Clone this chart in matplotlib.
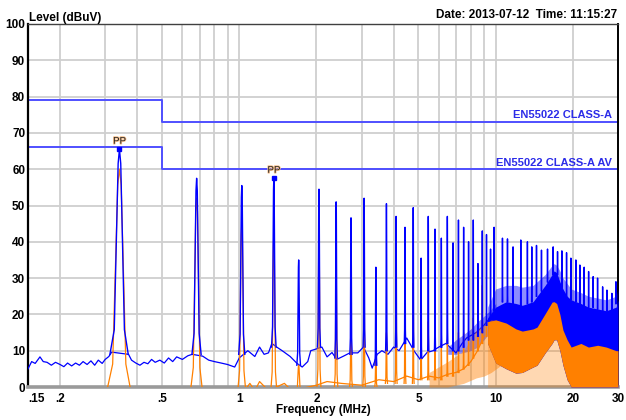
""" EMI conducted emission scan, EN55022 class A """

import numpy as np
import matplotlib
matplotlib.use("Agg")
import matplotlib.pyplot as plt
import matplotlib.patheffects as pe
from matplotlib.ticker import NullFormatter

plt.rcParams['font.family'] = ['Liberation Sans', 'DejaVu Sans']

# --- limit lines (MHz, dBuV) ---
LIMIT_F = [0.15, 0.5, 0.5, 30]
QP_LIMIT = [79, 79, 73, 73]
AV_LIMIT = [66, 66, 60, 60]

# --- blue (peak) trace: noise floor between spikes ---
BLUE_FLOOR_F = [0.150, 0.155, 0.160, 0.167, 0.172, 0.178, 0.185, 0.192, 0.200,
                0.207, 0.214, 0.222, 0.230, 0.238, 0.246, 0.255, 0.264, 0.273,
                0.282, 0.292, 0.300, 0.310, 0.318, 0.370, 0.380, 0.395, 0.410,
                0.425, 0.440, 0.455, 0.470, 0.490, 0.510, 0.530, 0.550, 0.570,
                0.600, 0.630, 0.655, 0.720, 0.760, 0.800, 0.850, 0.900, 0.960,
                1.00, 1.08, 1.15, 1.20, 1.25, 1.30, 1.34, 1.40, 1.47, 1.58,
                1.68, 1.76, 1.85, 1.90, 2.00, 2.10, 2.20, 2.30, 2.40, 2.55,
                2.70, 2.90, 3.05, 3.20, 3.30, 3.45, 3.60, 3.80, 4.00, 4.20,
                4.50, 4.80, 5.10, 5.40, 5.70, 6.00, 6.40, 7.00, 7.40, 7.70,
                8.40, 9.00, 9.50]
BLUE_FLOOR = [5.0, 7.0, 6.5, 8.3, 7.0, 6.8, 6.0, 6.8, 6.2,
              5.6, 6.6, 5.8, 6.6, 6.0, 7.0, 6.2, 7.2, 6.0,
              7.4, 6.5, 7.6, 8.4, 9.6, 9.0, 7.4, 6.6, 6.0,
              6.8, 6.4, 7.6, 6.8, 7.4, 6.6, 8.0, 7.0, 8.3,
              7.6, 8.6, 9.0, 8.5, 7.4, 7.0, 6.6, 6.2, 5.5,
              8.0, 10.0, 8.4, 11.0, 9.0, 9.4, 12.0, 11.0, 10.0, 8.4,
              6.5, 5.5, 7.0, 10.0, 10.5, 11.0, 8.3, 9.5, 7.6, 8.5,
              9.4, 9.4, 11.0, 8.0, 5.2, 9.0, 10.0, 9.0, 11.0, 10.0,
              13.5, 10.0, 7.4, 9.5, 10.0, 11.0, 12.0, 9.4, 12.0, 13.5,
              15.0, 17.0, 19.0]

# partly filled blue between 6.5 and 10 MHz
BLUE_LIGHT_F = [6.5, 7.0, 7.5, 8.0, 8.5, 9.0, 9.5, 10.0]
BLUE_LIGHT_LO = [9.0, 9.0, 9.5, 10.0, 11.0, 13.0, 15.0, 16.0]
BLUE_LIGHT_HI = [11.0, 13.0, 14.5, 16.0, 18.0, 19.5, 21.0, 23.0]

# dense part of both traces above ~9 MHz
BAND_F = [9.3, 10.0, 11.0, 12.0, 12.7, 14.0, 14.5, 15.6, 16.6, 16.9, 17.3,
          17.8, 18.3, 19.0, 19.7, 21.5, 23.0, 25.0, 27.0, 29.5, 30.0]
BLUE_HAZE_HI = [22.0, 27.0, 28.0, 28.0, 27.5, 28.0, 29.0, 31.0, 33.5, 34.0, 33.5,
                32.0, 30.0, 28.5, 27.0, 26.0, 25.0, 24.5, 24.0, 25.0, 27.0]
BLUE_BAND_HI = [19.0, 22.0, 23.5, 23.0, 22.5, 23.5, 25.0, 28.0, 31.0, 32.0, 31.5,
                29.0, 27.0, 25.0, 24.0, 23.0, 22.0, 21.5, 21.0, 22.0, 24.0]
ORANGE_BAND_HI = [18.0, 18.5, 17.6, 16.0, 15.4, 16.0, 16.5, 20.2, 23.4, 23.5, 23.0,
                  20.0, 15.7, 13.0, 11.0, 12.0, 11.0, 11.5, 11.0, 10.0, 10.0]
ORANGE_BAND_LO = [12.0, 6.6, 5.0, 3.8, 4.0, 5.5, 6.0, 9.4, 12.0, 13.0, 13.0,
                  10.0, 6.0, 2.0, 0.0, 0.0, 0.0, 0.0, 0.0, 0.0, 0.0]

# peach area (dense average trace with gaps) 5.5 - 10.5 MHz
ORANGE_PEACH_F = [5.5, 6.5, 7.5, 8.4, 9.0, 9.6, 10.5]
ORANGE_PEACH_LO = [0.0, 0.0, 1.0, 2.5, 3.0, 4.0, 6.0]
ORANGE_PEACH_HI = [4.0, 7.0, 10.0, 15.7, 17.0, 18.5, 18.0]

# blue spikes: frequency (MHz), peak and foot level (dBuV)
BLUE_SPIKE_F = [0.341, 0.682, 1.023, 1.364, 1.705, 2.046, 2.387, 2.728, 3.069,
                3.41, 3.75, 4.09, 4.43, 4.77, 5.12, 5.46, 5.80, 6.14, 6.48,
                6.82, 7.16, 7.50, 7.84, 8.18, 8.53, 8.87, 9.21, 9.55, 9.86,
                10.63, 11.12, 11.69, 12.53, 13.3, 13.83, 14.43, 15.09, 15.93,
                16.76, 17.43, 18.12, 18.9, 19.65, 20.55, 21.3, 22.14, 23.04,
                24.0, 24.97, 26.13, 27.16, 28.4, 29.45]
BLUE_SPIKE_DB = [65.5, 57.5, 55.5, 57.5, 35.0, 54.5, 51.0, 46.6, 52.0,
                 33.0, 50.5, 47.0, 44.0, 49.4, 35.5, 47.0, 43.5, 41.0, 47.0,
                 39.7, 46.0, 44.0, 40.0, 46.0, 34.0, 43.0, 42.0, 38.0, 44.0,
                 41.0, 40.8, 38.6, 40.5, 40.0, 38.6, 39.0, 37.7, 38.0,
                 38.6, 37.3, 37.5, 37.0, 35.5, 35.0, 33.6, 33.0, 31.8,
                 30.4, 30.0, 27.6, 26.7, 25.8, 29.0]
BLUE_SPIKE_BASE = [9, 9, 9, 11, 6, 11, 8, 9, 11,
                   6, 10, 11, 12, 11, 8, 10, 10, 11, 12,
                   10, 10, 11, 13, 13, 14, 15, 17, 19, 21,
                   23.5, 23.5, 23, 22.5, 23, 23.5, 25, 26.5, 29,
                   31, 31, 27.5, 25, 24, 23.5, 23, 22.5, 22,
                   22, 21.5, 21, 21, 21.5, 23]

# orange (average) trace
ORANGE_FLOOR_F = [0.15, 1.00, 1.10, 1.15, 1.20, 1.30, 1.50, 1.60, 2.00, 2.20,
                  2.50, 3.00, 3.50, 4.00, 4.50, 5.00, 5.50, 6.00, 6.50, 7.00,
                  7.50, 8.00, 8.50, 9.00]
ORANGE_FLOOR = [-3, -3, 1.0, -1.0, 1.5, -1.0, 1.0, -1.0, 0.5, 1.5,
                1.0, 0.5, 2.0, 1.5, 3.0, 2.0, 3.0, 2.5, 3.5, 4.0,
                5.0, 7.0, 10.0, 14.0]
ORANGE_SPIKE_F = BLUE_SPIKE_F[:27]
ORANGE_SPIKE_DB = [60, 52, 45, 42, 6, 41, 30, 16, 25,
                   9, 15, 30, 25, 28.6, 15, 18, 12, 12, 13,
                   12, 15, 15, 14, 19, 22.6, 28, 18]
ORANGE_SPIKE_BASE = [-1, -1, -1, -1, -1, 0, 0, 0, 0,
                     0, 1, 1, 1, 1, 2, 2, 2, 2, 3,
                     3, 4, 5, 6, 8, 10, 12, 14]

# peak markers
PP_F = [0.341, 1.364]
PP_DB = [65.5, 57.5]

# spike outline (receiver filter shape), style only
SPIKE_DF_KHZ = np.array([-28, -15.5, -8.7, -4, 0, 4, 8.7, 15.5, 28])
SPIKE_H = np.array([0, 0.12, 0.6, 0.93, 1, 0.93, 0.6, 0.12, 0])

BLUE = "#0000FF"
ORANGE = "#FF8000"
LIMIT_BLUE = "#4F4FFF"


def draw_spikes(ax, freqs, peaks, bases, color, widen, z, lw):
    for f, p, b in zip(freqs, peaks, bases):
        ax.plot(f + SPIKE_DF_KHZ * widen / 1000.0, b + (p - b) * SPIKE_H,
                color=color, lw=lw, zorder=z, solid_joinstyle="round")


fig = plt.figure(figsize=(6.26, 4.20), dpi=100)
ax = fig.add_axes([28 / 626, 33 / 420, 590 / 626, 363 / 420])

ax.set_xscale("log")
ax.set_xlim(0.15, 30)
ax.set_ylim(0, 100)

# grid
ax.set_xticks([0.15, 0.2, 0.5, 1, 2, 5, 10, 20, 30])
ax.set_xticklabels([".15", ".2", ".5", "1", "2", "5", "10", "20", "30"])
ax.set_xticks([0.3, 0.4, 0.6, 0.7, 0.8, 0.9, 3, 4, 6, 7, 8, 9], minor=True)
ax.xaxis.set_minor_formatter(NullFormatter())
ax.set_yticks(range(0, 101, 10))
ax.grid(True, which="both", color="#CFCFCF", lw=1.3, zorder=0)
ax.set_axisbelow(True)
ax.tick_params(which="both", length=0)
ax.tick_params(axis="y", pad=2, labelsize=8.5)
ax.tick_params(axis="x", pad=4, labelsize=8.5)
for lab in ax.get_xticklabels() + ax.get_yticklabels():
    lab.set_fontweight("bold")
ax.get_xticklabels()[0].set_ha("left")

ax.spines["left"].set_color("black")
ax.spines["left"].set_linewidth(1.6)
ax.spines["right"].set_color("black")
ax.spines["right"].set_linewidth(1.4)
ax.spines["top"].set_color("#404040")
ax.spines["top"].set_linewidth(1.0)
ax.spines["bottom"].set_color("#9A9A9A")
ax.spines["bottom"].set_linewidth(2.6)

# limits
ax.plot(LIMIT_F, QP_LIMIT, color=LIMIT_BLUE, lw=1.4, zorder=2)
ax.plot(LIMIT_F, AV_LIMIT, color=LIMIT_BLUE, lw=1.4, zorder=2)
ax.annotate("EN55022 CLASS-A", xy=(30, QP_LIMIT[-1]), xytext=(-4.5, 2.6),
            textcoords="offset points", ha="right", va="baseline",
            color="#2B2BE8", fontsize=8, fontweight="bold", zorder=8)
ax.annotate("EN55022 CLASS-A AV", xy=(30, AV_LIMIT[-1]), xytext=(-4.5, 2.6),
            textcoords="offset points", ha="right", va="baseline",
            color="#2B2BE8", fontsize=8, fontweight="bold", zorder=8)

# peak trace
ax.plot(BLUE_FLOOR_F, BLUE_FLOOR, color=BLUE, lw=0.9, zorder=3)
ax.fill_between(BLUE_LIGHT_F, BLUE_LIGHT_LO, BLUE_LIGHT_HI, color=BLUE,
                alpha=0.45, lw=0, zorder=3)
ax.fill_between(BAND_F, ORANGE_BAND_LO, BLUE_HAZE_HI, color=BLUE,
                alpha=0.45, lw=0, zorder=3)
ax.fill_between(BAND_F, ORANGE_BAND_LO, BLUE_BAND_HI, color=BLUE, lw=0,
                zorder=3)

# average trace
ax.plot(ORANGE_FLOOR_F, ORANGE_FLOOR, color=ORANGE, lw=0.9, zorder=4)
ax.fill_between(ORANGE_PEACH_F, ORANGE_PEACH_LO, ORANGE_PEACH_HI,
                color=ORANGE, alpha=0.45, lw=0, zorder=4)
ax.fill_between(BAND_F, 0, ORANGE_BAND_LO, color=ORANGE, alpha=0.3, lw=0,
                zorder=4)
ax.fill_between(BAND_F, ORANGE_BAND_LO, ORANGE_BAND_HI, color=ORANGE, lw=0,
                zorder=4)
draw_spikes(ax, ORANGE_SPIKE_F, ORANGE_SPIKE_DB, ORANGE_SPIKE_BASE, ORANGE,
            1.3, 5, 0.9)

draw_spikes(ax, BLUE_SPIKE_F, BLUE_SPIKE_DB, BLUE_SPIKE_BASE, BLUE, 1.0, 6, 1.0)

# peak markers
ax.plot(PP_F, PP_DB, ls="none", marker="s", ms=2.6, color=BLUE, zorder=7)
for f, v in zip(PP_F, PP_DB):
    ax.annotate("PP", xy=(f, v), xytext=(0, 2.5), textcoords="offset points",
                ha="center", va="bottom", fontsize=7, color="#202020",
                zorder=8,
                path_effects=[pe.withStroke(linewidth=1.2,
                                            foreground="#F6C08E")])

# header / axis titles
fig.text(29 / 626, 1 - 20.5 / 420, "Level (dBuV)", ha="left",
         va="baseline", fontsize=8.5, fontweight="bold")
fig.text(617 / 626, 1 - 18.5 / 420, "Date: 2013-07-12  Time: 11:15:27",
         ha="right", va="baseline", fontsize=8.5, fontweight="bold")
fig.text(323 / 626, 1 - 410 / 420, "Frequency (MHz)", ha="center",
         va="center", fontsize=8.5, fontweight="bold")

fig.savefig("out.png", dpi=100)
